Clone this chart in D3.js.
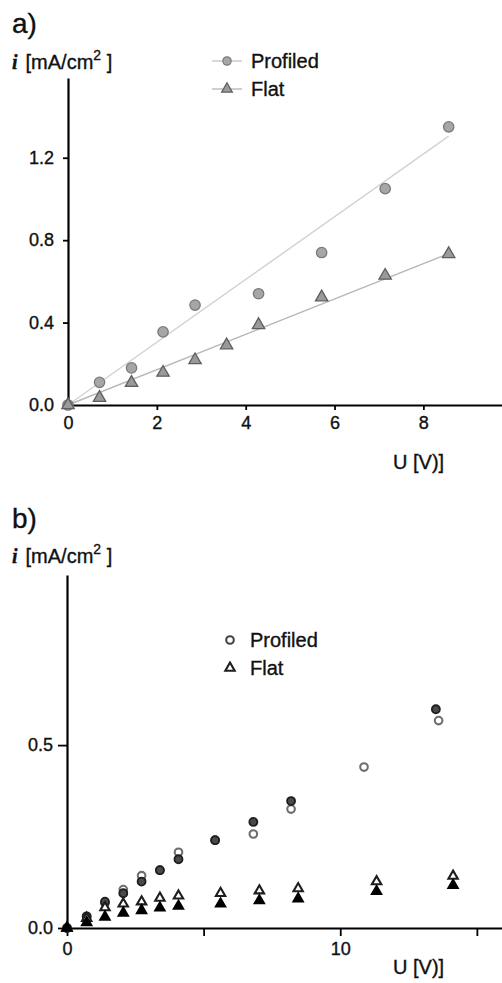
<!DOCTYPE html>
<html>
<head>
<meta charset="utf-8">
<script src="https://cdn.jsdelivr.net/npm/d3@7"></script>
<style>
body { margin: 0; background: #fff; }
text { font-family: "Liberation Sans", Arial, sans-serif; fill: #111; stroke: #111; stroke-width: 0.35px; }
</style>
</head>
<body>
<script>
// ---- panel a) data
var uProfA = [0, 0.71, 1.43, 2.14, 2.86, 4.29, 5.71, 7.14, 8.57];
var profiledA = [0, 0.11, 0.18, 0.355, 0.485, 0.54, 0.74, 1.05, 1.35];
var uFlatA = [0, 0.71, 1.43, 2.14, 2.86, 3.57, 4.29, 5.71, 7.14, 8.57];
var flatA = [0, 0.035, 0.108, 0.157, 0.218, 0.29, 0.388, 0.523, 0.628, 0.733];
var fitProfiledA = [[0, 0], [8.57, 1.305]];
var fitFlatA = [[0, 0], [8.57, 0.735]];
var xTicksA = [0, 2, 4, 6, 8];
var yTicksA = [0, 0.4, 0.8, 1.2];

// ---- panel b) data
var uProfOpenB = [0, 0.72, 1.39, 2.06, 2.73, 3.4, 4.08, 5.42, 6.82, 8.2, 10.87, 13.6];
var profOpenB = [0, 0.03, 0.068, 0.105, 0.143, 0.158, 0.207, 0.24, 0.257, 0.325, 0.44, 0.567];
var uProfFilledB = [0, 0.72, 1.39, 2.06, 2.73, 3.4, 4.08, 5.42, 6.82, 8.2, 13.5];
var profFilledB = [0, 0.032, 0.072, 0.095, 0.127, 0.158, 0.188, 0.24, 0.29, 0.347, 0.598];
var uFlatB = [0, 0.72, 1.39, 2.06, 2.73, 3.4, 4.08, 5.62, 7.04, 8.46, 11.33, 14.13];
var flatOpenB = [0, 0.027, 0.056, 0.066, 0.072, 0.082, 0.088, 0.095, 0.102, 0.108, 0.127, 0.142];
var flatFilledB = [0, 0.015, 0.03, 0.041, 0.048, 0.055, 0.06, 0.066, 0.075, 0.08, 0.1, 0.117];
var xTicksB = [0, 5, 10, 15];
var xLabelsB = [0, 10];
var yTicksB = [0, 0.5];

var svg = d3.select("body").append("svg").attr("width", 502).attr("height", 983);

function zip(us, vs) { return us.map(function (u, i) { return [u, vs[i]]; }); }

function drawAxes(g, x, y, xt, yt, xfmt, xTick, yTick, yPad) {
  var ax = g.append("g").attr("transform", "translate(0," + y.range()[0] + ")")
    .call(d3.axisBottom(x).tickValues(xt).tickSize(xTick).tickSizeOuter(0).tickPadding(6).tickFormat(xfmt));
  var ay = g.append("g").attr("transform", "translate(" + x.range()[0] + ",0)")
    .call(d3.axisLeft(y).tickValues(yt).tickSize(yTick).tickSizeOuter(0).tickPadding(yPad).tickFormat(d3.format(".1f")));
  [ax, ay].forEach(function (a) {
    a.select(".domain").attr("stroke", "#000").attr("stroke-width", 2.2);
    a.selectAll(".tick line").attr("stroke", "#000").attr("stroke-width", 1.8);
    a.selectAll(".tick text").style("font-family", '"Liberation Sans", Arial, sans-serif')
      .style("font-size", "18px").attr("fill", "#111");
  });
}

function yLabel(g, x0, yb) {
  var t = g.append("text").attr("x", x0).attr("y", yb).style("font-size", "20px");
  t.append("tspan").text("i").style("font-family", '"Liberation Serif", serif')
    .style("font-style", "italic").style("font-weight", "bold");
  t.append("tspan").attr("dx", 8).text("[mA/cm");
  t.append("tspan").attr("dy", -9).style("font-size", "14px").text("2");
  t.append("tspan").attr("dy", 9).text(" ]");
}

// ================= a)
var xA = d3.scaleLinear().domain([0, 9.77]).range([68, 502]);
var yA = d3.scaleLinear().domain([0, 1.587]).range([405, 78]);
var gA = svg.append("g");

gA.append("text").attr("x", 12).attr("y", 33).style("font-size", "28px").text("a)");
yLabel(gA, 12, 69);

var line = d3.line().x(function (d) { return xA(d[0]); }).y(function (d) { return yA(d[1]); });
gA.append("path").datum(fitProfiledA).attr("d", line).attr("fill", "none").attr("stroke", "#d2d2d2").attr("stroke-width", 1.4);
gA.append("path").datum(fitFlatA).attr("d", line).attr("fill", "none").attr("stroke", "#b9b9b9").attr("stroke-width", 1.4);

drawAxes(gA, xA, yA, xTicksA, yTicksA, d3.format("d"), 5, 5, 9);

var triA = d3.symbol().type(d3.symbolTriangle).size(66);
var triLegA = d3.symbol().type(d3.symbolTriangle).size(50);

gA.selectAll("circle.p").data(zip(uProfA, profiledA)).join("circle")
  .attr("cx", function (d) { return xA(d[0]); }).attr("cy", function (d) { return yA(d[1]); })
  .attr("r", 5.2).attr("fill", "#a6a6a6").attr("stroke", "#7a7a7a").attr("stroke-width", 1.3);
gA.selectAll("path.f").data(zip(uFlatA, flatA)).join("path")
  .attr("transform", function (d) { return "translate(" + xA(d[0]) + "," + yA(d[1]) + ")"; })
  .attr("d", triA).attr("fill", "#9a9a9a").attr("stroke", "#5e5e5e").attr("stroke-width", 1.3);

// legend a
var legA = gA.append("g");
legA.append("line").attr("x1", 212).attr("x2", 242).attr("y1", 61).attr("y2", 61).attr("stroke", "#c8c8c8").attr("stroke-width", 1.4);
legA.append("circle").attr("cx", 227).attr("cy", 61).attr("r", 4.2).attr("fill", "#a6a6a6").attr("stroke", "#7a7a7a").attr("stroke-width", 1.2);
legA.append("text").attr("x", 251).attr("y", 61).attr("dy", "0.36em").style("font-size", "20px").text("Profiled");
legA.append("line").attr("x1", 212).attr("x2", 242).attr("y1", 89).attr("y2", 89).attr("stroke", "#b9b9b9").attr("stroke-width", 1.4);
legA.append("path").attr("transform", "translate(227,89)").attr("d", triLegA).attr("fill", "#9a9a9a").attr("stroke", "#5e5e5e").attr("stroke-width", 1.2);
legA.append("text").attr("x", 251).attr("y", 89).attr("dy", "0.36em").style("font-size", "20px").text("Flat");

gA.append("text").attr("x", 393).attr("y", 469).style("font-size", "20px").text("U [V)]");

// ================= b)
var xB = d3.scaleLinear().domain([0, 15.92]).range([67, 502]);
var yB = d3.scaleLinear().domain([0, 0.965]).range([928, 575]);
var gB = svg.append("g");

gB.append("text").attr("x", 12).attr("y", 528).style("font-size", "28px").text("b)");
yLabel(gB, 12, 563);

drawAxes(gB, xB, yB, xTicksB, yTicksB,
  function (d) { return xLabelsB.indexOf(d) >= 0 ? d : ""; }, 8, 9, 5);

var triB = d3.symbol().type(d3.symbolTriangle).size(38);

gB.selectAll("circle.po").data(zip(uProfOpenB, profOpenB)).join("circle")
  .attr("cx", function (d) { return xB(d[0]); }).attr("cy", function (d) { return yB(d[1]); })
  .attr("r", 3.8).attr("fill", "#fff").attr("stroke", "#6e6e6e").attr("stroke-width", 2.1);
gB.selectAll("circle.pf").data(zip(uProfFilledB, profFilledB)).join("circle")
  .attr("cx", function (d) { return xB(d[0]); }).attr("cy", function (d) { return yB(d[1]); })
  .attr("r", 4).attr("fill", "#4a4a4a").attr("stroke", "#1e1e1e").attr("stroke-width", 1.8);
gB.selectAll("path.fo").data(zip(uFlatB, flatOpenB)).join("path")
  .attr("transform", function (d) { return "translate(" + xB(d[0]) + "," + yB(d[1]) + ")"; })
  .attr("d", triB).attr("fill", "#fff").attr("stroke", "#1e1e1e").attr("stroke-width", 2.1);
gB.selectAll("path.ff").data(zip(uFlatB, flatFilledB)).join("path")
  .attr("transform", function (d) { return "translate(" + xB(d[0]) + "," + yB(d[1]) + ")"; })
  .attr("d", triB).attr("fill", "#000").attr("stroke", "#000").attr("stroke-width", 2);

// legend b
var legB = gB.append("g");
legB.append("circle").attr("cx", 230).attr("cy", 640).attr("r", 3.8).attr("fill", "#fff").attr("stroke", "#444").attr("stroke-width", 2.1);
legB.append("text").attr("x", 250).attr("y", 640).attr("dy", "0.36em").style("font-size", "20px").text("Profiled");
legB.append("path").attr("transform", "translate(230,668)").attr("d", triB).attr("fill", "#fff").attr("stroke", "#1e1e1e").attr("stroke-width", 2.1);
legB.append("text").attr("x", 250).attr("y", 668).attr("dy", "0.36em").style("font-size", "20px").text("Flat");

gB.append("text").attr("x", 393).attr("y", 974).style("font-size", "20px").text("U [V)]");
</script>
</body>
</html>
